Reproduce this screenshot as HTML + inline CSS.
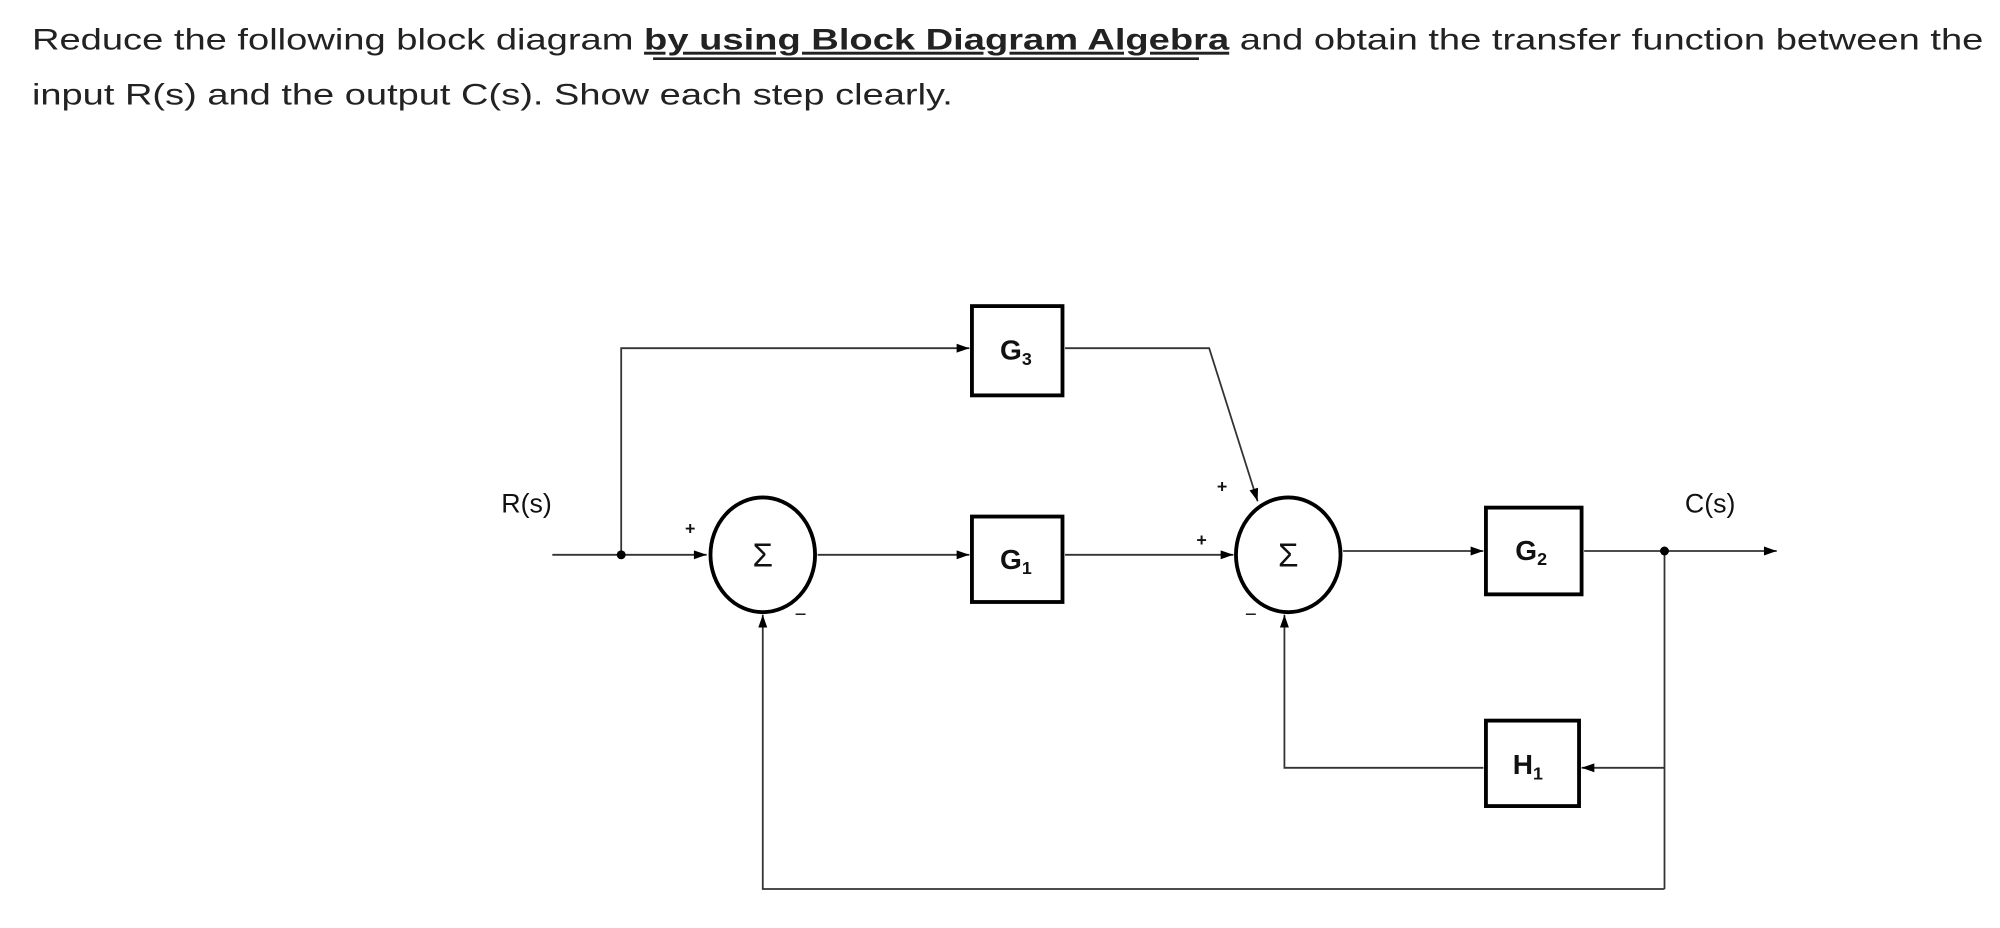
<!DOCTYPE html>
<html><head><meta charset="utf-8"><style>
html,body{margin:0;padding:0;background:#fff;}
svg{display:block;}
</style></head><body>
<svg width="2000" height="928" viewBox="0 0 1568 727.6" xmlns="http://www.w3.org/2000/svg" font-family="Liberation Sans, sans-serif">
<defs>
<marker id="a" viewBox="0 0 10 10" refX="10" refY="5" markerWidth="22" markerHeight="10" markerUnits="userSpaceOnUse" orient="auto"><path d="M0,1.5 L10,5 L0,8.5 z" fill="#000"/></marker>
</defs>
<text x="25" y="39" font-size="23" fill="#222" textLength="1530" lengthAdjust="spacingAndGlyphs">Reduce the following block diagram <tspan font-weight="bold" text-decoration="underline">by using Block Diagram Algebra</tspan> and obtain the transfer function between the</text>
<line x1="512" y1="46" x2="940" y2="46" stroke="#222" stroke-width="2"/>
<text x="25" y="82" font-size="23" fill="#222" textLength="722" lengthAdjust="spacingAndGlyphs">input R(s) and the output C(s). Show each step clearly.</text>

<g fill="none" stroke="#333" stroke-width="1.4">
<!-- input -->
<line x1="433" y1="435" x2="554" y2="435" marker-end="url(#a)"/>
<polyline points="487,435 487,273 760,273" marker-end="url(#a)"/>
<polyline points="835,273 948,273 986,393" marker-end="url(#a)"/>
<line x1="641" y1="435" x2="760" y2="435" marker-end="url(#a)"/>
<line x1="835" y1="435" x2="967" y2="435" marker-end="url(#a)"/>
<line x1="1053" y1="432" x2="1163" y2="432" marker-end="url(#a)"/>
<line x1="1242" y1="432" x2="1393" y2="432" marker-end="url(#a)"/>
<line x1="1305" y1="432" x2="1305" y2="697"/>
<line x1="1305" y1="602" x2="1240" y2="602" marker-end="url(#a)"/>
<polyline points="1163,602 1007,602 1007,482" marker-end="url(#a)"/>
<polyline points="1305,697 598,697 598,482" marker-end="url(#a)"/>
</g>
<circle cx="487" cy="435" r="3.5" fill="#000"/>
<circle cx="1305" cy="432" r="3.5" fill="#000"/>

<g fill="#fff" stroke="#000" stroke-width="3">
<ellipse cx="598" cy="435" rx="41" ry="45"/>
<ellipse cx="1010" cy="435" rx="41" ry="45"/>
<rect x="762" y="240" width="71" height="70"/>
<rect x="762" y="405" width="71" height="67"/>
<rect x="1165" y="398" width="75" height="68"/>
<rect x="1165" y="565" width="73" height="67"/>
</g>

<g fill="#111" font-size="22">
<text x="598" y="444" text-anchor="middle" font-size="26">Σ</text>
<text x="1010" y="444" text-anchor="middle" font-size="26">Σ</text>
<text x="784" y="282" font-weight="bold">G<tspan font-size="14" dy="4">3</tspan></text>
<text x="784" y="446" font-weight="bold">G<tspan font-size="14" dy="4">1</tspan></text>
<text x="1188" y="439" font-weight="bold">G<tspan font-size="14" dy="4">2</tspan></text>
<text x="1186" y="607" font-weight="bold">H<tspan font-size="14" dy="4">1</tspan></text>
<text x="393" y="402" font-size="21">R(s)</text>
<text x="1321" y="402" font-size="21">C(s)</text>
<text x="537" y="419" font-size="14" font-weight="bold">+</text>
<text x="938" y="428" font-size="14" font-weight="bold">+</text>
<text x="954" y="386" font-size="14" font-weight="bold">+</text>
<text x="623" y="487" font-size="16">−</text>
<text x="976" y="487" font-size="16">−</text>
</g>
</svg>
</body></html>
